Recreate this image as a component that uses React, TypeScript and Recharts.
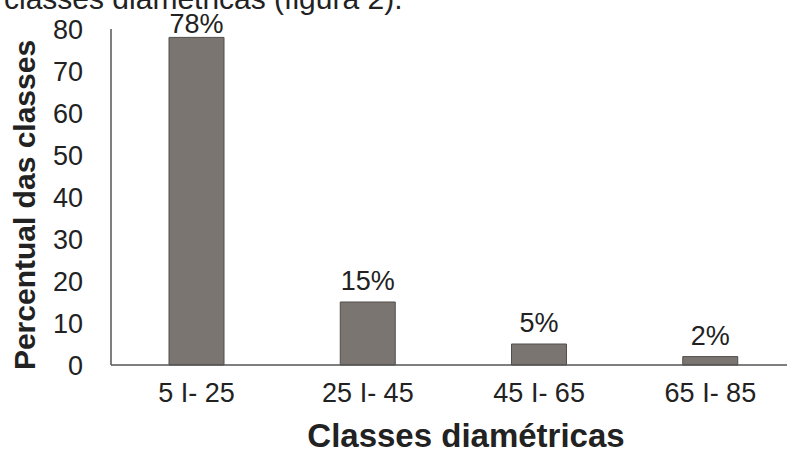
import { BarChart, Bar, XAxis, YAxis, LabelList, Label } from 'recharts'

const classes = ['5 I- 25', '25 I- 45', '45 I- 65', '65 I- 85']
const percentuais = [78, 15, 5, 2]
const yTicks = [0, 10, 20, 30, 40, 50, 60, 70, 80]

const data = classes.map((c, i) => ({ classe: c, valor: percentuais[i] }))

const FONT = '"Liberation Sans", Arial, sans-serif'
const TEXT = '#222'
const AXIS = '#555'

function ValueLabel(props: any) {
       const { x, y, width, value } = props
       // the tallest label sits almost on its bar in the original
       const baseline = Math.max(y - 12, 33)
       return (
              <text x={x + width / 2} y={baseline} textAnchor="middle" fontSize={27} fill={TEXT} fontFamily={FONT}>
                     {value}%
              </text>
       )
}

export default function App() {
       return (
              <div style={{ position: 'fixed', top: 0, left: 0, width: 787, height: 450, overflow: 'hidden', background: '#fff', fontFamily: FONT }}>
                     <svg width={787} height={40} style={{ position: 'absolute', top: 0, left: 0 }}>
                            <text x={4} y={9} fontSize={30} fill={TEXT} fontFamily={FONT}>classes diamétricas (figura 2).</text>
                     </svg>
                     <BarChart width={810} height={450} data={data} margin={{ top: 29, right: 14, left: 0, bottom: 0 }}>
                            <XAxis
                                   dataKey="classe"
                                   height={85}
                                   tickSize={0}
                                   tickMargin={18}
                                   tick={{ fontSize: 27, fill: TEXT, fontFamily: FONT }}
                                   axisLine={{ stroke: AXIS, strokeWidth: 1.5 }}
                                   tickLine={false}
                            >
                                   <Label
                                          content={() => (
                                                 <text x={466} y={447} textAnchor="middle" fontSize={33} fontWeight="bold" fill={TEXT} fontFamily={FONT}>
                                                        Classes diamétricas
                                                 </text>
                                          )}
                                   />
                            </XAxis>
                            <YAxis
                                   width={111}
                                   domain={[0, 80]}
                                   ticks={yTicks}
                                   interval={0}
                                   tickSize={0}
                                   tickMargin={28}
                                   tick={{ fontSize: 27, fill: TEXT, fontFamily: FONT }}
                                   axisLine={{ stroke: AXIS, strokeWidth: 1.5 }}
                                   tickLine={false}
                            >
                                   <Label
                                          content={() => (
                                                 <text x={35} y={205} transform="rotate(-90 35 205)" textAnchor="middle" fontSize={30} fontWeight="bold" fill={TEXT} fontFamily={FONT}>
                                                        Percentual das classes
                                                 </text>
                                          )}
                                   />
                            </YAxis>
                            <Bar dataKey="valor" barSize={55} fill="#7a7571" stroke="#524e4b" strokeWidth={1} isAnimationActive={false}>
                                   <LabelList dataKey="valor" content={ValueLabel} />
                            </Bar>
                     </BarChart>
              </div>
       )
}
